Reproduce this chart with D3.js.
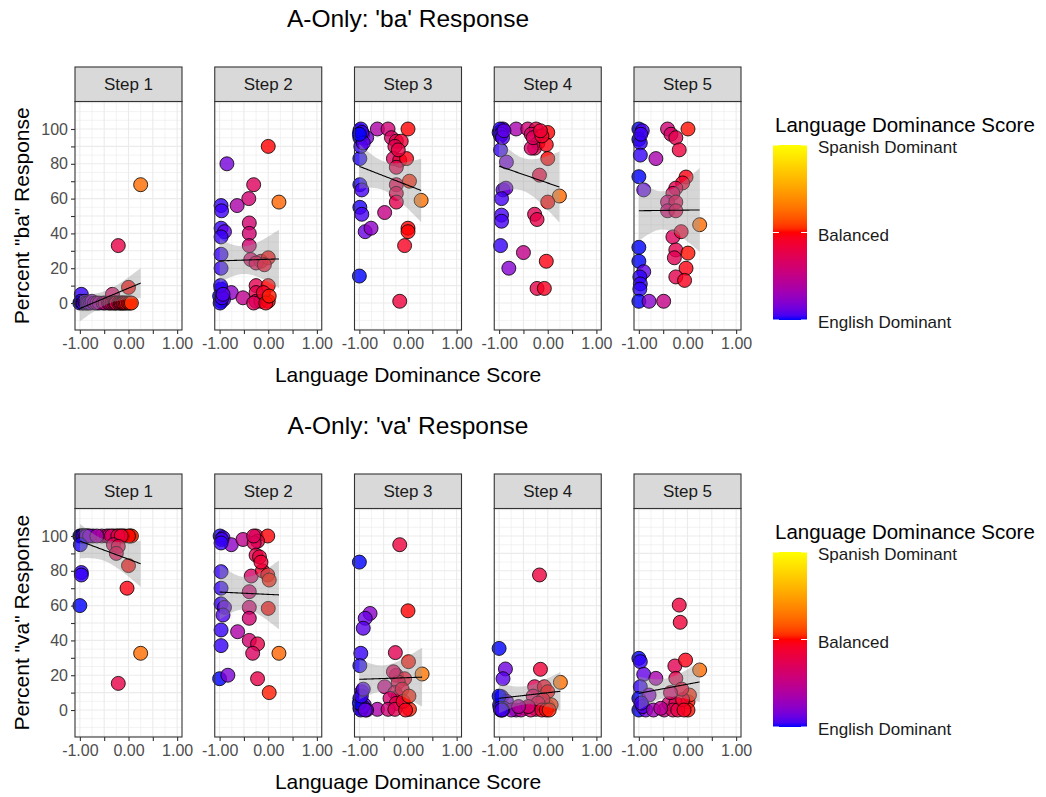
<!DOCTYPE html>
<html>
<head>
<meta charset="utf-8">
<script src="https://cdn.jsdelivr.net/npm/d3@7"></script>
<style>
  html, body { margin: 0; padding: 0; background: #fff; }
  svg { display: block; font-family: "Liberation Sans", Arial, sans-serif; }
</style>
</head>
<body>
<div id="chart"></div>
<script>
// ---------------- data ----------------
const steps = ["Step 1", "Step 2", "Step 3", "Step 4", "Step 5"];
const plotTitles = ["A-Only: 'ba' Response", "A-Only: 'va' Response"];
const yTitles = ['Percent "ba" Response', 'Percent "va" Response'];
const xTitle = "Language Dominance Score";
const legendTitle = "Language Dominance Score";
const legendValues = [-1, 0, 1];
const legendLabels = ["English Dominant", "Balanced", "Spanish Dominant"];
const xTicks = [-1, -0.5, 0, 0.5, 1];
const xTickLabels = ["-1.00", "", "0.00", "", "1.00"];
const yTicks = [0, 10, 20, 30, 40, 50, 60, 70, 80, 90, 100];
const yTickLabels = ["0", "", "20", "", "40", "", "60", "", "80", "", "100"];

// [dominance score, percent response]
const baStep1 = [[-0.97,5],[-1.0,0],[-0.98,1],[-0.95,0],[-0.93,0],[-0.9,1],[-0.88,0],[-0.85,0],[-0.82,0],[-0.78,0],[-0.75,1],[-0.7,0],[-0.65,0],[-0.6,0],[-0.52,0],[-0.48,0],[-0.41,0],[-0.38,0],[-0.34,0],[-0.33,5],[-0.3,0],[-0.27,0],[-0.25,0],[-0.21,33],[-0.2,0],[-0.17,0],[-0.15,0],[-0.12,0],[-0.1,0],[-0.07,0],[-0.04,0],[0,9],[0,0],[0.03,0],[0.06,0],[0.25,68]];
const baStep2 = [[0,90],[-0.85,80],[-0.3,68],[-0.4,60],[0.22,58],[-0.97,56],[-0.64,56],[-0.96,53],[-0.39,46],[-0.39,40],[-0.97,43],[-0.9,41],[-0.97,38],[-0.39,33],[-0.97,28],[-0.97,20],[-0.36,25],[-0.15,24],[0,26],[-0.25,23],[-0.08,22],[-0.97,8],[-0.76,6],[-1,4],[-0.97,1],[-0.52,3],[-0.25,10],[-0.25,6],[-0.25,1],[-0.15,1],[0,10],[0,1],[-0.1,6],[-0.92,2],[-0.3,0],[-0.99,0],[-0.95,3],[-0.98,10],[-0.93,5],[-0.05,0],[0.02,4]];
const baStep3 = [[-0.99,99],[-0.93,97],[-0.85,95],[-0.99,95],[-0.63,100],[-0.41,100],[-0.34,95],[-0.24,93],[-0.14,93],[-0.27,90],[0,100],[-0.99,83],[-0.3,83],[-0.17,82],[-0.03,83],[-0.24,78],[-0.99,68],[-0.95,65],[-0.24,68],[0.03,70],[-0.24,63],[0.27,59],[-0.24,58],[-0.99,55],[-0.95,51],[-0.48,52],[-0.88,41],[-0.76,43],[0,43],[0,41],[-0.07,33],[-1,15.5],[-0.17,1],[-0.2,88],[-0.97,90],[-0.97,100],[-0.95,98],[-0.92,92],[-1,97]];
const baStep4 = [[-0.95,99],[-0.97,96],[-0.92,100],[-0.65,100],[-0.41,100],[-0.24,100],[-0.34,97],[-0.2,92],[-0.27,89],[0,98],[-0.03,91],[-0.34,89],[-0.3,95],[-0.97,88],[-0.85,81],[0,83],[-0.17,73.5],[-0.92,65],[-0.86,66],[-0.95,60],[0.24,61.5],[0,58],[-0.95,50.5],[-0.95,47],[-0.27,51],[-0.22,48],[-0.97,33],[-0.5,29],[-0.8,20],[-0.03,24],[-0.22,8.4],[-0.07,8.4],[-0.12,96],[-0.15,99],[-1,98],[-0.98,100],[-0.96,97],[-0.93,95],[-0.9,99]];
const baStep5 = [[-1,100],[-0.93,99],[-1,94],[-0.97,92],[-0.97,85],[-0.65,83],[-0.41,100],[-0.34,97],[-0.24,95],[-0.17,88],[0.01,100],[-1,72.6],[-0.9,65],[-0.03,72.4],[-0.1,69],[-0.24,66],[-0.3,63],[-0.41,58],[-0.24,58],[-0.41,53],[-0.24,53],[0.25,45],[-0.3,38],[-0.13,41],[-0.24,30.5],[0.01,28.7],[-0.27,26],[-0.03,20],[-0.24,15],[-0.06,13],[-1,32],[-1,24],[-0.9,18],[-0.98,15],[-0.97,11],[-0.98,8],[-1,1],[-0.79,1],[-0.49,1],[-0.96,97]];
const vaStep1 = [[-1,100],[-0.93,100],[-0.83,100],[-0.73,100],[-0.55,100],[-0.45,100],[-0.31,100],[-0.25,100],[-0.18,100],[-0.08,100],[0.03,100],[0.06,100],[-0.96,100],[-0.9,100],[-0.4,100],[-0.12,100],[0,100],[-0.98,100],[-0.95,100],[-0.92,100],[-0.88,100],[-0.86,100],[-0.8,100],[-0.65,100],[-0.35,100],[-0.22,100],[-0.15,100],[-0.99,95],[-0.31,95],[-0.21,94],[-0.25,90],[0,83],[-0.97,79],[-0.97,77.6],[-1,60],[-0.03,70],[0.25,32.6],[-0.21,15.3]];
const vaStep2 = [[-0.99,100],[-0.93,99],[-0.76,95],[-0.52,98],[-0.25,100],[-0.01,100],[-0.22,97],[-0.29,96],[-0.25,89],[-0.18,88],[-0.97,79.5],[-0.35,77],[-0.12,80],[-0.01,77.6],[0.02,74.7],[-0.97,70],[-0.39,68],[-0.97,61],[-0.9,59],[-0.39,59],[0,58.4],[-0.93,54.6],[-0.39,52.7],[-0.97,46],[-0.63,45],[-0.97,37],[-0.39,40],[-0.22,38],[-0.32,32.6],[0.22,32.6],[-1,18],[-0.83,20],[-0.22,18],[0.02,10],[-0.96,98],[-0.3,100],[-0.97,96],[-0.15,85]];
const vaStep3 = [[-0.17,95],[-1,85],[-0.78,55.5],[-0.88,52.7],[-0.92,47],[0,57],[-0.97,32.6],[-0.99,25.5],[-0.26,33],[0.01,27.8],[0.29,20.7],[-0.24,20],[-0.07,18],[-0.2,16],[-0.48,13.4],[-0.95,10.5],[-0.99,6.7],[-0.27,10],[-0.2,7.6],[-0.37,6.7],[-0.24,3.8],[-0.95,1],[-0.63,0.4],[-0.41,0.4],[-0.27,0.4],[0.03,0.4],[-0.99,1],[-0.9,3],[-0.12,12],[-0.3,22],[-0.85,0],[-0.1,5],[-0.97,0],[-0.93,2],[-1,4],[-0.96,8],[-0.92,12],[-0.88,0],[-0.05,0],[0.02,8]];
const vaStep4 = [[-0.17,77.6],[-1,35.4],[-0.87,23.6],[-0.92,18],[-0.15,23.4],[0.26,15.9],[-0.27,13.4],[-0.07,13.4],[0,10.5],[-0.95,7.7],[-0.99,2.9],[-0.65,0],[-0.48,1],[-0.24,0.4],[0,2],[0.07,3],[-0.85,5],[-0.3,8],[-0.1,6],[-0.2,4],[-0.97,0],[-0.9,1],[-0.75,0],[-0.55,0],[-0.35,0],[-0.4,2],[-0.12,0],[-0.03,0],[0.03,0],[-1,8],[-0.93,0],[-0.6,2],[-0.98,1],[-0.95,0]];
const vaStep5 = [[-0.17,60.3],[-0.15,50.4],[-1,29.7],[-0.97,27.8],[-0.9,20.5],[-0.65,18.2],[-0.26,25.3],[-0.04,28.7],[0.25,23],[-0.24,18.2],[-0.97,13.4],[-1,6.7],[-0.79,8.6],[-1,0],[-0.86,0],[-0.48,0],[-0.38,3.8],[-0.24,3.8],[0.01,4.8],[0.01,0],[0.04,8.6],[-0.92,2],[-0.3,0],[-0.2,0],[-0.1,6],[-0.95,4],[-0.7,0],[-0.55,1],[-0.12,12],[-0.35,10],[-0.07,0]];

const baPanels = [baStep1, baStep2, baStep3, baStep4, baStep5];
const vaPanels = [vaStep1, vaStep2, vaStep3, vaStep4, vaStep5];

// ---------------- layout ----------------
const W = 1046, H = 797;
const blockOffsets = [0, 407];
const panelLeft0 = 75, panelStep = 139.75, panelW = 107;
const stripTop = 67, stripBottom = 101.5, panelBottom = 330;

const svg = d3.select("#chart").append("svg").attr("width", W).attr("height", H);
svg.append("rect").attr("width", W).attr("height", H).attr("fill", "#fff");

const x = d3.scaleLinear().domain([-1.1, 1.1]).range([0, panelW]);
const y = d3.scaleLinear().domain([-15.5, 115.8]).range([panelBottom - stripBottom, 0]);
const panelH = panelBottom - stripBottom;

const neg = d3.interpolateLab("#0000FF", "#FF0000");
const pos = d3.interpolateLab("#FF0000", "#FFFF00");
const color = v => v < 0 ? neg(Math.max(0, (v + 1))) : pos(Math.min(1, v));

// linear model with 95% CI
function lmFit(pts) {
  const n = pts.length;
  const mx = d3.mean(pts, d => d[0]), my = d3.mean(pts, d => d[1]);
  let sxx = 0, sxy = 0;
  pts.forEach(d => { sxx += (d[0]-mx)**2; sxy += (d[0]-mx)*(d[1]-my); });
  const b = sxy / sxx, a = my - b * mx;
  let sse = 0;
  pts.forEach(d => { sse += (d[1] - (a + b*d[0]))**2; });
  const s = Math.sqrt(sse / (n - 2));
  const t = 2.03;
  const [x0, x1] = d3.extent(pts, d => d[0]);
  const grid = d3.range(0, 81).map(i => x0 + (x1 - x0) * i / 80);
  return grid.map(xv => {
    const fit = a + b * xv;
    const se = s * Math.sqrt(1/n + (xv-mx)**2 / sxx);
    return {x: xv, fit, lo: fit - t*se, hi: fit + t*se};
  });
}

const xGrid = d3.range(-1, 1.0001, 0.25);
const yGrid = d3.range(-15, 115.001, 5);

[baPanels, vaPanels].forEach((panels, bi) => {
  const off = blockOffsets[bi];
  const g = svg.append("g").attr("transform", `translate(0,${off})`);

  g.append("text").attr("x", panelLeft0 + (panelStep*4 + panelW)/2).attr("y", 27)
    .attr("text-anchor", "middle").attr("font-size", 24.5).attr("fill", "#000")
    .text(plotTitles[bi]);

  g.append("text")
    .attr("transform", `translate(29,${(stripBottom + panelBottom)/2}) rotate(-90)`)
    .attr("text-anchor", "middle").attr("font-size", 21).attr("fill", "#000")
    .text(yTitles[bi]);

  g.append("text").attr("x", panelLeft0 + (panelStep*4 + panelW)/2).attr("y", 382)
    .attr("text-anchor", "middle").attr("font-size", 21).attr("fill", "#000")
    .text(xTitle);

  panels.forEach((pts, pi) => {
    const left = panelLeft0 + pi * panelStep;
    const pg = g.append("g").attr("transform", `translate(${left},${stripBottom})`);
    pg.append("rect").attr("width", panelW).attr("height", panelH).attr("fill", "#fff");
    pg.selectAll(".gx").data(xGrid).join("line")
      .attr("x1", d => x(d)).attr("x2", d => x(d)).attr("y1", 0).attr("y2", panelH)
      .attr("stroke", "#EBEBEB").attr("stroke-width", (d) => Math.abs(d*2 - Math.round(d*2)) < 1e-6 ? 1.1 : 0.6);
    pg.selectAll(".gy").data(yGrid).join("line")
      .attr("y1", d => y(d)).attr("y2", d => y(d)).attr("x1", 0).attr("x2", panelW)
      .attr("stroke", "#EBEBEB").attr("stroke-width", d => (d % 10 === 0 && d >= 0 && d <= 100) ? 1.1 : 0.6);

    pg.selectAll("circle").data(pts).join("circle")
      .attr("cx", d => x(d[0])).attr("cy", d => y(d[1])).attr("r", 7)
      .attr("fill", d => color(d[0])).attr("fill-opacity", 0.8)
      .attr("stroke", "#000").attr("stroke-width", 0.8);

    const fit = lmFit(pts);
    pg.append("path").datum(fit)
      .attr("d", d3.area().x(d => x(d.x)).y0(d => y(d.lo)).y1(d => y(d.hi)))
      .attr("fill", "#999999").attr("fill-opacity", 0.4);
    pg.append("path").datum(fit)
      .attr("d", d3.line().x(d => x(d.x)).y(d => y(d.fit)))
      .attr("fill", "none").attr("stroke", "#000").attr("stroke-width", 1.1);

    pg.append("rect").attr("width", panelW).attr("height", panelH)
      .attr("fill", "none").attr("stroke", "#333333").attr("stroke-width", 1.1);

    const sg = g.append("g").attr("transform", `translate(${left},${stripTop})`);
    sg.append("rect").attr("width", panelW).attr("height", stripBottom - stripTop)
      .attr("fill", "#D9D9D9").attr("stroke", "#333333").attr("stroke-width", 1.1);
    sg.append("text").attr("x", panelW/2).attr("y", (stripBottom - stripTop)/2 + 6)
      .attr("text-anchor", "middle").attr("font-size", 17).attr("fill", "#1A1A1A")
      .text(steps[pi]);

    const xa = g.append("g").attr("transform", `translate(${left},${panelBottom})`)
      .call(d3.axisBottom(x).tickValues(xTicks).tickSize(4).tickPadding(4)
        .tickFormat((d, i) => xTickLabels[i]));
    xa.select(".domain").remove();
    xa.selectAll(".tick line").attr("stroke", "#333333").attr("stroke-width", 1.1);
    xa.selectAll(".tick text").attr("font-size", 16).attr("fill", "#4D4D4D")
      .attr("font-family", "Liberation Sans, Arial, sans-serif");

    if (pi === 0) {
      const ya = g.append("g").attr("transform", `translate(${left},${stripBottom})`)
        .call(d3.axisLeft(y).tickValues(yTicks).tickSize(4).tickPadding(3)
          .tickFormat((d, i) => yTickLabels[i]));
      ya.select(".domain").remove();
      ya.selectAll(".tick line").attr("stroke", "#333333").attr("stroke-width", 1.1);
      ya.selectAll(".tick text").attr("font-size", 16).attr("fill", "#4D4D4D")
        .attr("font-family", "Liberation Sans, Arial, sans-serif");
    }
  });

  // legend
  const lg = g.append("g");
  lg.append("text").attr("x", 775).attr("y", 132).attr("font-size", 20.5).attr("fill", "#000")
    .text(legendTitle);
  const barTop = 145, barBottom = 320, barX = 773, barW = 34;
  const ls = d3.scaleLinear().domain([-1, 1]).range([barBottom, barTop]);
  const gradId = "grad" + bi;
  const grad = svg.append("defs").append("linearGradient").attr("id", gradId)
    .attr("x1", 0).attr("y1", 1).attr("x2", 0).attr("y2", 0);
  d3.range(0, 41).forEach(i => {
    const v = -1 + 2 * i / 40;
    grad.append("stop").attr("offset", i / 40).attr("stop-color", color(v));
  });
  lg.append("rect").attr("x", barX).attr("y", barTop).attr("width", barW)
    .attr("height", barBottom - barTop).attr("fill", `url(#${gradId})`);
  legendValues.forEach((v, i) => {
    const yy = ls(v);
    lg.append("line").attr("x1", barX).attr("x2", barX + 6).attr("y1", yy).attr("y2", yy)
      .attr("stroke", "#fff").attr("stroke-width", 1);
    lg.append("line").attr("x1", barX + barW - 6).attr("x2", barX + barW).attr("y1", yy).attr("y2", yy)
      .attr("stroke", "#fff").attr("stroke-width", 1);
    lg.append("text").attr("x", 818).attr("y", yy + 8).attr("font-size", 17).attr("fill", "#1A1A1A")
      .text(legendLabels[i]);
  });
});
</script>
</body>
</html>
